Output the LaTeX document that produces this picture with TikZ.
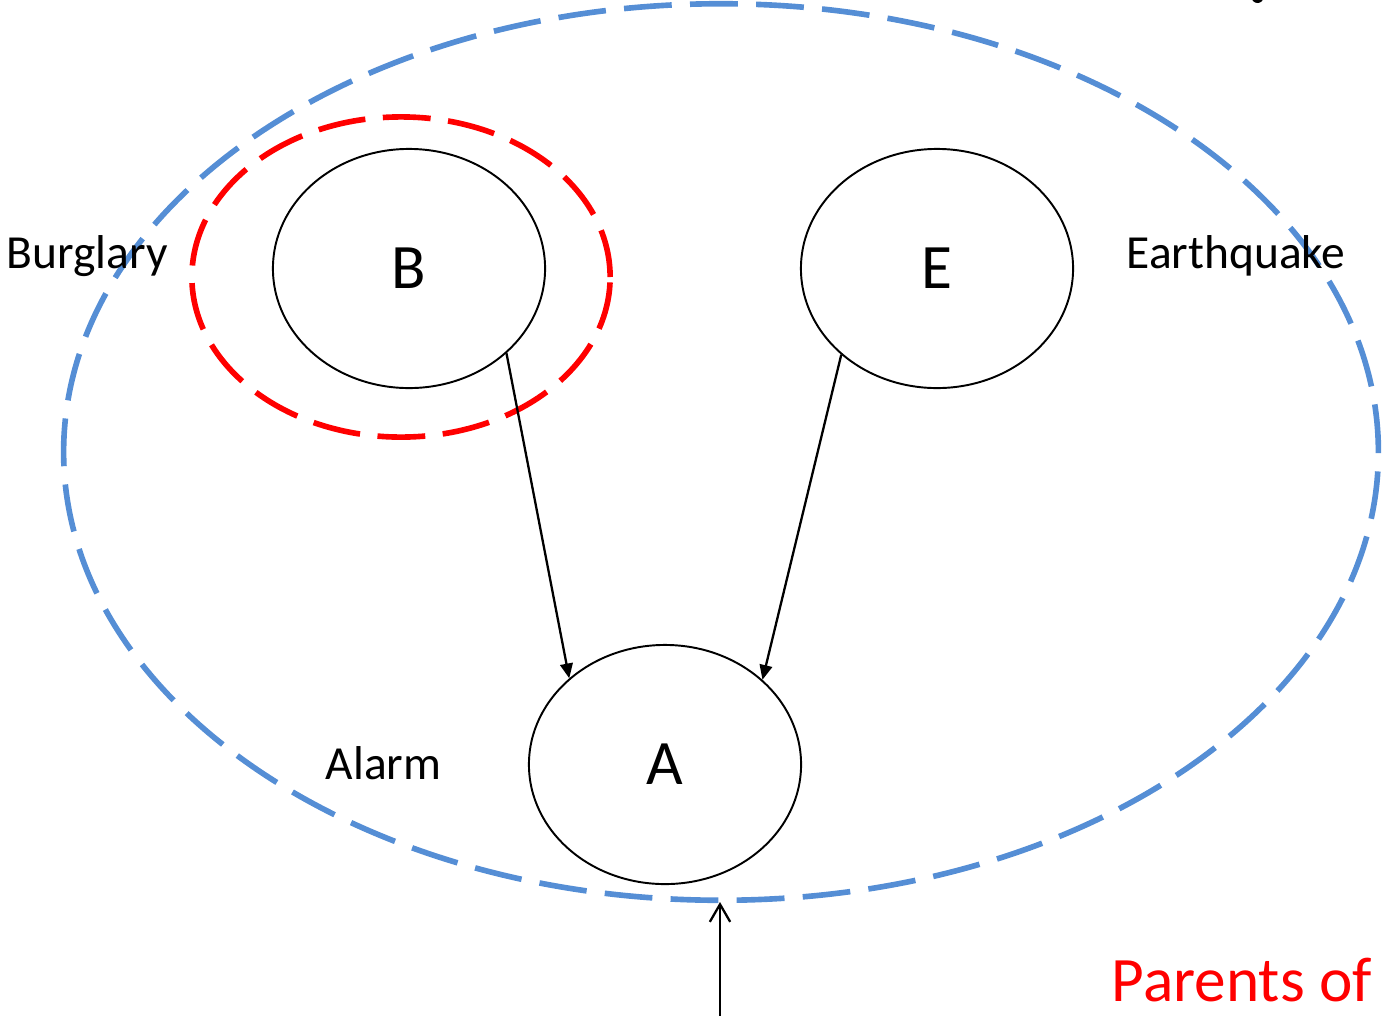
\documentclass[tikz,border=0pt]{standalone}
\usepackage{fontspec}
\setmainfont{Carlito}
\usetikzlibrary{shapes.geometric,arrows.meta}
\definecolor{setblue}{RGB}{85,142,213}
\definecolor{setred}{RGB}{255,0,0}
\tikzset{
  var/.style={ellipse,draw=black,line width=0.55pt,minimum width=2.72cm,minimum height=2.39cm,inner sep=0pt,font=\fontsize{18pt}{20pt}\selectfont},
  lbl/.style={font=\fontsize{13.5pt}{15pt}\selectfont,inner sep=0pt},
  edge/.style={line width=0.65pt,-{Triangle[length=4.2pt,width=3.6pt]}},
  blanket/.style={draw=setblue,line width=1.6pt,dash pattern=on 13.6pt off 5.2pt},
  parentset/.style={draw=setred,line width=1.6pt,dash pattern=on 13.6pt off 5pt},
}
\begin{document}
\begin{tikzpicture}[x=0.01cm,y=-0.01cm]
\useasboundingbox (0,0) rectangle (1383,1015);
\clip (0,0) rectangle (1383,1015);
% cut-off mark at top right
\fill (1257.5,-3) circle (0.06cm);
% Markov blanket (blue) and parents (red)
\draw[blanket] (721,452) ellipse [x radius=6.57cm, y radius=4.48cm];
\draw[parentset] (401,277) ellipse [x radius=2.09cm, y radius=1.6cm];
% variable nodes
\node[var] (B) at (409,268.5) {B};
\node[var] (E) at (937,268.5) {E};
\node[var] (A) at (665,764.5) {A};
% labels
\node[lbl,anchor=base west] (lb) at (6,268) {Burglary};
\node[lbl,anchor=base west] (le) at (1126,268) {Earthquake};
\node[lbl,anchor=base west] (la) at (325,779) {Alarm};
\node[anchor=base west,inner sep=0pt,text=setred,font=\fontsize{18pt}{20pt}\selectfont] (po) at (1111,1001) {Parents of};
% edges
\draw[edge] (B.-41) -- (A.138.3);
\draw[edge] (E.-138.3) -- (A.41.7);
% incoming arrow from below
\coordinate (bot) at (720,1020);
\coordinate (tip) at (720,902);
\draw[line width=0.65pt,-{Straight Barb[length=5pt,width=5.8pt]}] (bot) -- (tip);
\end{tikzpicture}
\end{document}
